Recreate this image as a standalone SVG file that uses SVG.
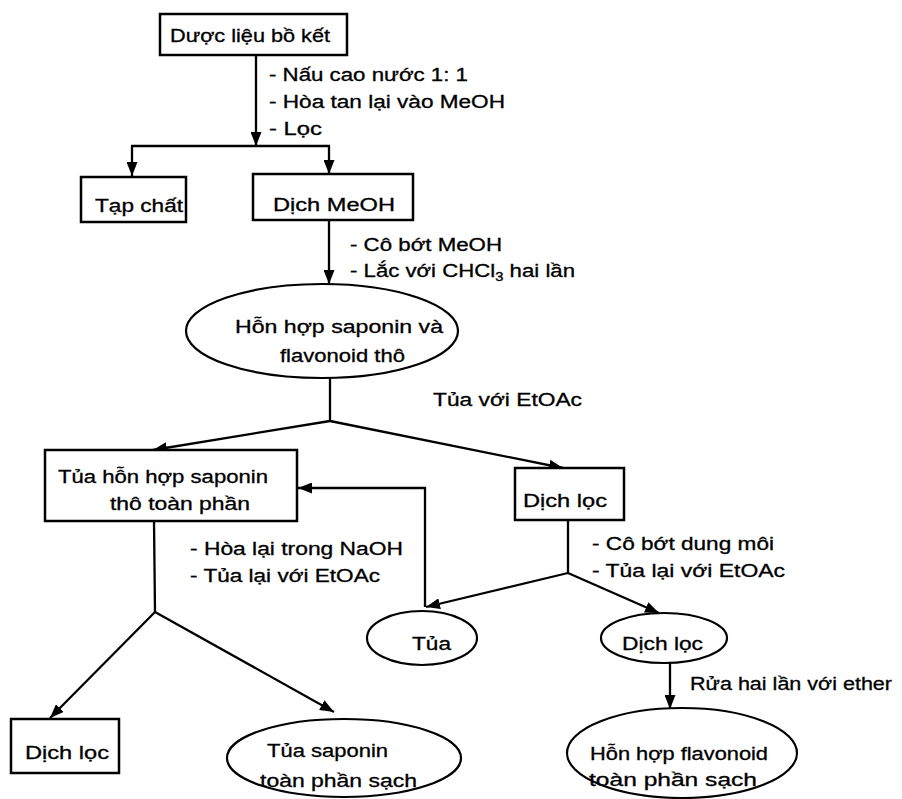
<svg xmlns="http://www.w3.org/2000/svg" width="902" height="799" viewBox="0 0 902 799">
<style>
  text { font-family: "Liberation Sans", Arial, sans-serif; font-size: 18px; fill: #000; stroke: #000; stroke-width: 0.3; }
  .box { fill: #fff; stroke: #000; stroke-width: 2.5; }
  .ell { fill: #fff; stroke: #000; stroke-width: 2.2; }
  .ln { fill: none; stroke: #000; stroke-width: 2.3; }
</style>
<defs>
  <marker id="ah" markerUnits="userSpaceOnUse" markerWidth="15" markerHeight="11" refX="14" refY="5.5" orient="auto">
    <path d="M0,0 L14,5.5 L0,11 z" fill="#000"/>
  </marker>
</defs>
<rect width="902" height="799" fill="#fff"/>

<g id="connectors">
  <line class="ln" x1="256" y1="55" x2="256" y2="146" marker-end="url(#ah)"/>
  <line class="ln" x1="131" y1="146" x2="330" y2="146"/>
  <line class="ln" x1="132" y1="146" x2="132" y2="176" marker-end="url(#ah)"/>
  <line class="ln" x1="329" y1="146" x2="329" y2="174" marker-end="url(#ah)"/>
  <line class="ln" x1="329" y1="220" x2="329" y2="284" marker-end="url(#ah)"/>
  <line class="ln" x1="330" y1="378" x2="330" y2="421"/>
  <line class="ln" x1="330" y1="421" x2="153" y2="450" marker-end="url(#ah)"/>
  <line class="ln" x1="330" y1="421" x2="563" y2="468" marker-end="url(#ah)"/>
  <polyline class="ln" points="425,607 425,488 298,488" marker-end="url(#ah)"/>
  <line class="ln" x1="568" y1="520" x2="568" y2="573"/>
  <line class="ln" x1="568" y1="573" x2="426" y2="607" marker-end="url(#ah)"/>
  <line class="ln" x1="568" y1="573" x2="659" y2="613" marker-end="url(#ah)"/>
  <line class="ln" x1="154" y1="521" x2="155" y2="612"/>
  <line class="ln" x1="155" y1="612" x2="50" y2="718" marker-end="url(#ah)"/>
  <line class="ln" x1="155" y1="612" x2="334" y2="712" marker-end="url(#ah)"/>
  <line class="ln" x1="670" y1="662" x2="670" y2="709" marker-end="url(#ah)"/>
</g>

<g id="labels">
  <text x="269" y="81" textLength="199" lengthAdjust="spacingAndGlyphs">- Nấu cao nước 1: 1</text>
  <text x="269" y="108" textLength="236" lengthAdjust="spacingAndGlyphs">- Hòa tan lại vào MeOH</text>
  <text x="269" y="135" textLength="53" lengthAdjust="spacingAndGlyphs">- Lọc</text>
  <text x="350" y="251" textLength="152" lengthAdjust="spacingAndGlyphs">- Cô bớt MeOH</text>
  <text x="350" y="277" textLength="225" lengthAdjust="spacingAndGlyphs">- Lắc với CHCl<tspan font-size="12" dy="4">3</tspan><tspan dy="-4"> hai lần</tspan></text>
  <text x="433" y="406" textLength="149" lengthAdjust="spacingAndGlyphs">Tủa với EtOAc</text>
  <text x="190" y="555" textLength="213" lengthAdjust="spacingAndGlyphs">- Hòa lại trong NaOH</text>
  <text x="190" y="582" textLength="190" lengthAdjust="spacingAndGlyphs">- Tủa lại với EtOAc</text>
  <text x="592" y="550" textLength="182" lengthAdjust="spacingAndGlyphs">- Cô bớt dung môi</text>
  <text x="592" y="577" textLength="193" lengthAdjust="spacingAndGlyphs">- Tủa lại với EtOAc</text>
  <text x="690" y="690" textLength="202" lengthAdjust="spacingAndGlyphs">Rửa hai lần với ether</text>
</g>

<g id="n-duoc-lieu">
  <rect class="box" x="160" y="14" width="187" height="41"/>
  <text x="170" y="42" textLength="160" lengthAdjust="spacingAndGlyphs">Dược liệu bồ kết</text>
</g>
<g id="n-tap-chat">
  <rect class="box" x="81" y="177" width="105" height="45"/>
  <text x="95" y="212" textLength="88" lengthAdjust="spacingAndGlyphs">Tạp chất</text>
</g>
<g id="n-dich-meoh">
  <rect class="box" x="253" y="174" width="160" height="46"/>
  <text x="273" y="211" textLength="122" lengthAdjust="spacingAndGlyphs">Dịch MeOH</text>
</g>
<g id="n-hon-hop">
  <ellipse class="ell" cx="322" cy="331" rx="136" ry="47"/>
  <text x="235" y="333" textLength="208" lengthAdjust="spacingAndGlyphs">Hỗn hợp saponin và</text>
  <text x="280" y="362" textLength="125" lengthAdjust="spacingAndGlyphs">flavonoid thô</text>
</g>
<g id="n-tua-hon-hop">
  <rect class="box" x="45" y="450" width="252" height="71"/>
  <text x="58" y="483" textLength="210" lengthAdjust="spacingAndGlyphs">Tủa hỗn hợp saponin</text>
  <text x="110" y="510" textLength="140" lengthAdjust="spacingAndGlyphs">thô toàn phần</text>
</g>
<g id="n-dich-loc-1">
  <rect class="box" x="515" y="468" width="109" height="52"/>
  <text x="523" y="507" textLength="84" lengthAdjust="spacingAndGlyphs">Dịch lọc</text>
</g>
<g id="n-tua">
  <ellipse class="ell" cx="422" cy="638" rx="55" ry="27"/>
  <text x="412" y="650" textLength="39" lengthAdjust="spacingAndGlyphs">Tủa</text>
</g>
<g id="n-dich-loc-2">
  <ellipse class="ell" cx="664" cy="638" rx="63" ry="25"/>
  <text x="622" y="650" textLength="81" lengthAdjust="spacingAndGlyphs">Dịch lọc</text>
</g>
<g id="n-dich-loc-3">
  <rect class="box" x="11" y="719" width="108" height="54"/>
  <text x="25" y="759" textLength="84" lengthAdjust="spacingAndGlyphs">Dịch lọc</text>
</g>
<g id="n-tua-saponin">
  <ellipse class="ell" cx="344" cy="758" rx="117" ry="39"/>
  <text x="267" y="757" textLength="121" lengthAdjust="spacingAndGlyphs">Tủa saponin</text>
  <text x="260" y="787" textLength="157" lengthAdjust="spacingAndGlyphs">toàn phần sạch</text>
</g>
<g id="n-flavonoid">
  <ellipse class="ell" cx="682" cy="753" rx="115" ry="45"/>
  <text x="590" y="760" textLength="178" lengthAdjust="spacingAndGlyphs">Hỗn hợp flavonoid</text>
  <text x="589" y="786" textLength="168" lengthAdjust="spacingAndGlyphs">toàn phần sạch</text>
</g>
</svg>
